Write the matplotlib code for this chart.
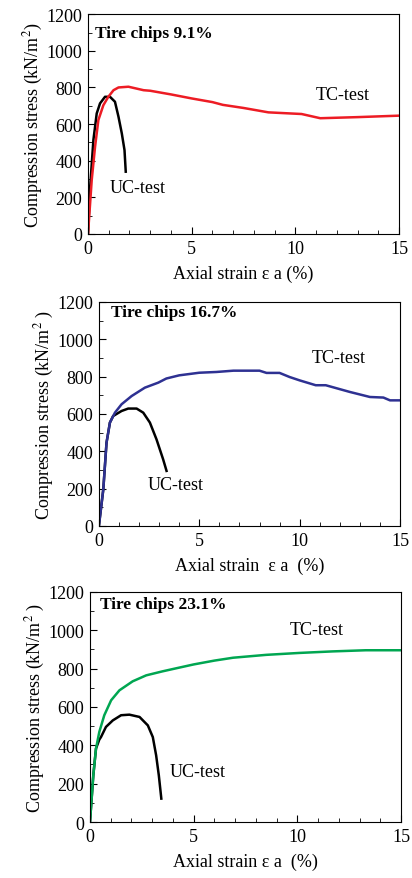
import numpy as np
import matplotlib
matplotlib.use("Agg")
import matplotlib.pyplot as plt
from matplotlib.ticker import MultipleLocator

plt.rcParams['font.family'] = ['Liberation Serif', 'DejaVu Serif']
plt.rcParams['mathtext.fontset'] = 'stix'

# panel 1: tire chips 9.1%
tc1_x = [0, 0.18, 0.34, 0.5, 0.74, 0.98, 1.23, 1.47, 1.95, 2.68, 3.0, 4.0, 5.0, 6.0, 6.5, 7.5, 8.7, 10.3, 11.2, 13.0, 15.0]
tc1_y = [0, 295, 476, 622, 703, 749, 785, 800, 804, 785, 782, 762, 740, 720, 705, 688, 664, 655, 632, 638, 646]
uc1_x = [0, 0.1, 0.26, 0.42, 0.58, 0.82, 1.06, 1.3, 1.47, 1.63, 1.76, 1.82]
uc1_y = [0, 250, 513, 658, 713, 749, 749, 722, 640, 549, 458, 340]

# panel 2: tire chips 16.7%
tc2_x = [0, 0.22, 0.38, 0.55, 0.8, 1.13, 1.63, 2.29, 2.96, 3.36, 4.0, 5.0, 5.85, 6.7, 8.0, 8.35, 9.0, 9.5, 10.0, 10.8, 11.3, 12.5, 13.5, 14.17, 14.5, 15.0]
tc2_y = [0, 196, 446, 554, 607, 652, 696, 741, 768, 790, 807, 821, 825, 832, 832, 820, 820, 798, 780, 754, 754, 718, 691, 688, 673, 673]
uc2_x = [0, 0.22, 0.38, 0.55, 0.71, 1.13, 1.46, 1.88, 2.21, 2.54, 2.87, 3.2, 3.37]
uc2_y = [0, 196, 446, 554, 589, 616, 629, 629, 607, 554, 464, 357, 295]

# panel 3: tire chips 23.1%
tc3_x = [0, 0.16, 0.29, 0.45, 0.69, 1.02, 1.42, 2.06, 2.71, 3.5, 4.08, 5.0, 6.0, 6.9, 8.5, 10.1, 11.7, 13.3, 15.0]
tc3_y = [0, 243, 383, 470, 557, 635, 687, 734, 765, 786, 800, 822, 842, 857, 872, 882, 890, 896, 896]
uc3_x = [0, 0.16, 0.29, 0.45, 0.53, 0.77, 1.1, 1.5, 1.9, 2.39, 2.79, 3.03, 3.19, 3.32, 3.44]
uc3_y = [0, 243, 383, 430, 443, 496, 530, 557, 560, 548, 504, 443, 348, 243, 122]

titles = ['Tire chips 9.1%', 'Tire chips 16.7%', 'Tire chips 23.1%']
xlabels = ['Axial strain \u03b5 a (%)', 'Axial strain  \u03b5 a  (%)', 'Axial strain \u03b5 a  (%)']
ylabels = ['Compression stress (kN/m$^2$)', 'Compression stress (kN/m$^2$ )', 'Compression stress (kN/m$^2$ )']
colors = ['#ed1c24', '#2e3192', '#00a651']

tc_data = [(tc1_x, tc1_y), (tc2_x, tc2_y), (tc3_x, tc3_y)]
uc_data = [(uc1_x, uc1_y), (uc2_x, uc2_y), (uc3_x, uc3_y)]
title_pos = [(0.32, 1100), (0.6, 1147), (0.48, 1139)]
tc_pos = [(11.0, 760), (10.6, 900), (9.65, 1005)]
uc_pos = [(1.05, 256), (2.44, 221), (3.86, 261)]

rects = [
    [0.2136, 0.7327, 0.755, 0.250],
    [0.240, 0.4005, 0.731, 0.2548],
    [0.2184, 0.0637, 0.755, 0.2617],
]

fig = plt.figure(figsize=(4.12, 8.79), dpi=100)

for i in range(3):
    ax = fig.add_axes(rects[i])
    ax.plot(uc_data[i][0], uc_data[i][1], color='black', lw=1.8)
    ax.plot(tc_data[i][0], tc_data[i][1], color=colors[i], lw=1.8)
    ax.set_xlim(0, 15)
    ax.set_ylim(0, 1200)
    ax.set_xticks([0, 5, 10, 15])
    ax.set_yticks(np.arange(0, 1201, 200))
    ax.xaxis.set_minor_locator(MultipleLocator(1))
    ax.yaxis.set_minor_locator(MultipleLocator(100))
    ax.tick_params(which='both', direction='in', top=False, right=False, labelsize=13, pad=4)
    ax.tick_params(which='major', length=5)
    ax.tick_params(which='minor', length=3)
    ax.set_xlabel(xlabels[i], fontsize=13, labelpad=6)
    ax.set_ylabel(ylabels[i], fontsize=13, labelpad=1)
    ax.text(title_pos[i][0], title_pos[i][1], titles[i], fontsize=12.5, fontweight='bold', va='center')
    ax.text(tc_pos[i][0], tc_pos[i][1], 'TC-test', fontsize=13, va='center')
    ax.text(uc_pos[i][0], uc_pos[i][1], 'UC-test', fontsize=13, va='center')

fig.savefig('out.png', dpi=100)
